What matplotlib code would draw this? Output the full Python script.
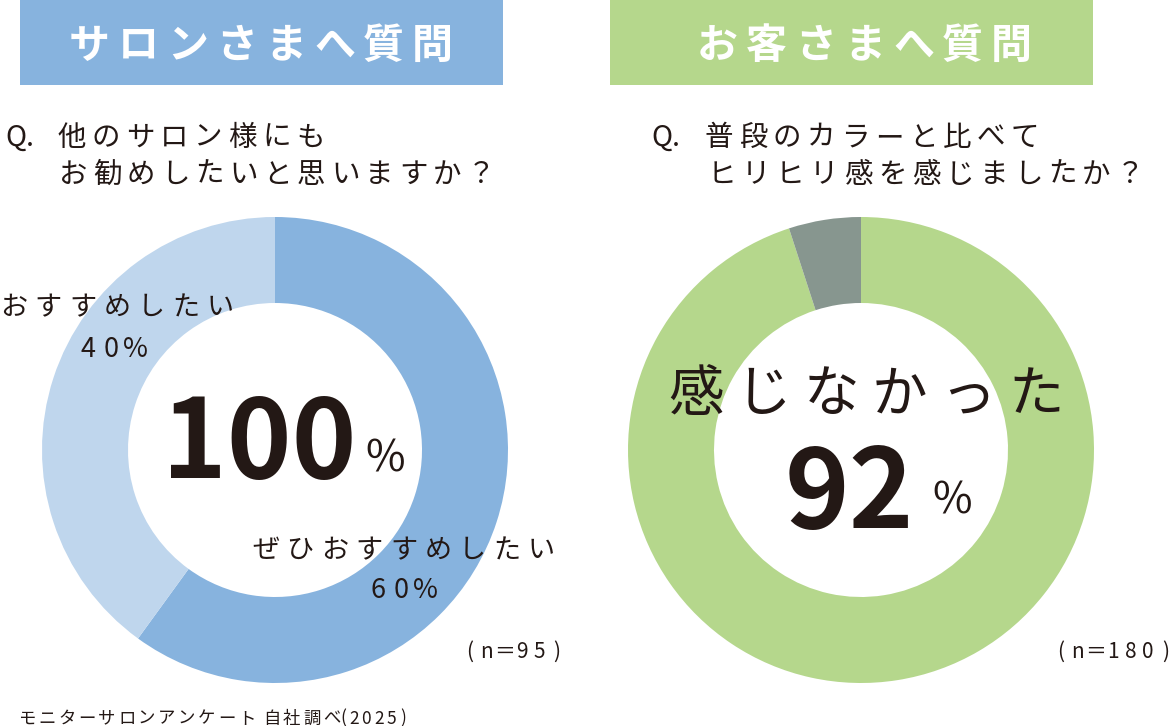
import matplotlib
matplotlib.use("Agg")
import matplotlib.pyplot as plt
from matplotlib.patches import Rectangle

plt.rcParams['font.family'] = ['Noto Sans CJK JP', 'DejaVu Sans']

# data
salon_labels = ['ぜひおすすめしたい', 'おすすめしたい']
salon_values = [60, 40]
salon_total = 100
salon_n = 95

guest_values = [95, 5]
guest_main_label = '感じなかった'
guest_main_pct = 92
guest_n = 180

W, H = 1176, 726
INK = '#231815'
BLUE = '#87b3de'
BLUE_LIGHT = '#bfd6ed'
GREEN = '#b5d78c'
GREY = '#87968f'


def Y(y):
    return H - y


def spaced(ax, x0, yc, s, pitch, fs, **kw):
    # draw a string char by char with fixed pitch (letter spacing)
    em = fs * 100 / 72
    base = yc + 0.38 * em
    for i, c in enumerate(s):
        ax.text(x0 + em / 2 + i * pitch, Y(base), c, fontsize=fs,
                ha='center', va='baseline', **kw)


fig = plt.figure(figsize=(W / 100, H / 100), dpi=100)
ax = fig.add_axes([0, 0, 1, 1])

# donuts
ax.pie(salon_values, colors=[BLUE, BLUE_LIGHT], startangle=90, counterclock=False,
       radius=233, center=(275, Y(450)), wedgeprops=dict(width=86, linewidth=0))
ax.pie(guest_values, colors=[GREEN, GREY], startangle=90, counterclock=False,
       radius=233, center=(861, Y(450)), wedgeprops=dict(width=86, linewidth=0))

ax.set_xlim(0, W)
ax.set_ylim(0, H)
ax.set_aspect('equal')
ax.axis('off')

# header boxes
ax.add_patch(Rectangle((20, Y(85)), 483, 85, color=BLUE, lw=0))
ax.add_patch(Rectangle((610, Y(85)), 483, 85, color=GREEN, lw=0))
spaced(ax, 69, 42, 'サロンさまへ質問', 49, 29.5, color='white', fontweight='bold')
spaced(ax, 697, 42, 'お客さまへ質問', 49, 29.5, color='white', fontweight='bold')

# questions
qfs = 20.5
ax.text(5, Y(135 + 0.38 * qfs * 100 / 72), 'Q.', fontsize=qfs, color=INK, va='baseline')
spaced(ax, 58, 135, '他のサロン様にも', 34, qfs, color=INK)
spaced(ax, 59, 172, 'お勧めしたいと思いますか？', 34, qfs, color=INK)
ax.text(651, Y(135 + 0.38 * qfs * 100 / 72), 'Q.', fontsize=qfs, color=INK, va='baseline')
spaced(ax, 705, 135, '普段のカラーと比べて', 34, qfs, color=INK)
spaced(ax, 708, 172, 'ヒリヒリ感を感じましたか？', 34, qfs, color=INK)

# left labels
lfs = 19.5
spaced(ax, 0, 305, salon_labels[1], 34.5, lfs, color=INK)
spaced(ax, 74, 347, f'{salon_values[1]}%', 24, lfs, color=INK)
spaced(ax, 252, 548, salon_labels[0], 34.5, lfs, color=INK)
spaced(ax, 364, 588, f'{salon_values[0]}%', 24, lfs, color=INK)

ax.text(162, Y(478), str(salon_total), fontsize=79, fontweight='bold', color=INK, va='baseline')
ax.text(365, Y(471), '%', fontsize=31, color=INK, va='baseline')

# right labels
spaced(ax, 668, 390, guest_main_label, 68, 40, color=INK)
ax.text(785, Y(528), str(guest_main_pct), fontsize=79, fontweight='bold', color=INK, va='baseline')
ax.text(932, Y(514), '%', fontsize=31, color=INK, va='baseline')

# sample sizes
spaced(ax, 459, 650, f'(n＝{salon_n})', 17.5, 15, color=INK)
spaced(ax, 1050, 650, f'(n＝{guest_n})', 17.5, 15, color=INK)

# footer
ffs = 12.5
spaced(ax, 18, 717, 'モニターサロンアンケート', 20, ffs, color=INK)
spaced(ax, 263, 717, '自社調べ', 20, ffs, color=INK)
spaced(ax, 335, 717, '(', 0, ffs, color=INK)
spaced(ax, 345, 717, '2025', 12.5, ffs, color=INK)
spaced(ax, 394, 717, ')', 0, ffs, color=INK)

fig.savefig('out.png', dpi=100)
